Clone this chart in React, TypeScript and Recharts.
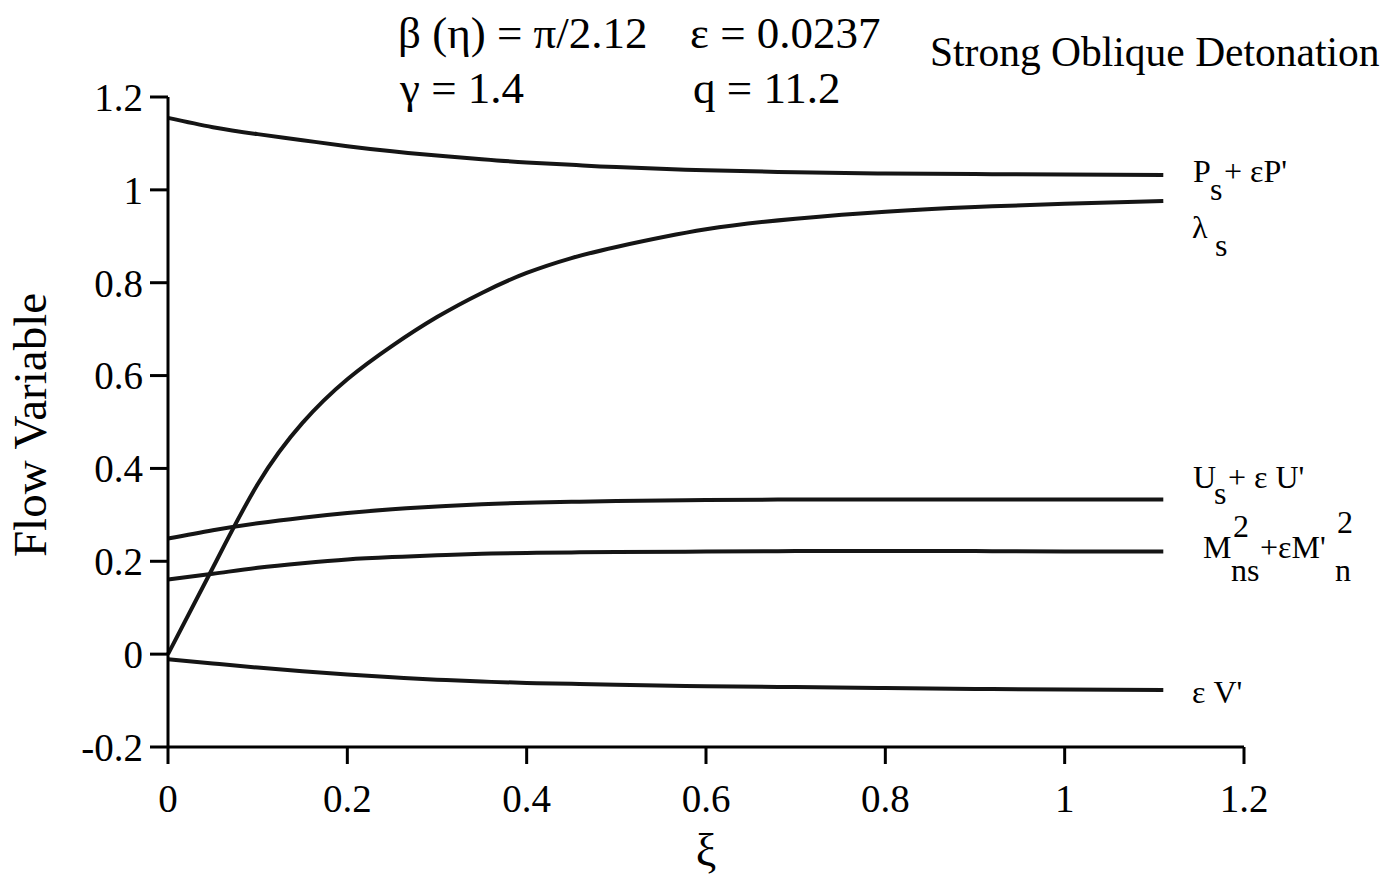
import React from "react";
import { LineChart, Line, XAxis, YAxis, Customized } from "recharts";

// xi positions along the detonation front
const xi = [0, 0.05, 0.1, 0.15, 0.2, 0.25, 0.3, 0.35, 0.4, 0.45, 0.5, 0.6, 0.7, 0.8, 0.9, 1.0, 1.11];
const pressure = [1.155, 1.135, 1.12, 1.107, 1.094, 1.083, 1.074, 1.066, 1.059, 1.054, 1.049, 1.042, 1.038, 1.035, 1.034, 1.033, 1.032];
const lambda = [0, 0.186, 0.366, 0.498, 0.592, 0.664, 0.726, 0.778, 0.821, 0.853, 0.877, 0.915, 0.938, 0.953, 0.963, 0.97, 0.976];
const velocityU = [0.249, 0.267, 0.282, 0.294, 0.304, 0.312, 0.318, 0.323, 0.326, 0.328, 0.33, 0.332, 0.333, 0.333, 0.333, 0.333, 0.333];
const machSq = [0.161, 0.173, 0.186, 0.196, 0.204, 0.209, 0.213, 0.216, 0.218, 0.219, 0.22, 0.221, 0.222, 0.222, 0.222, 0.221, 0.221];
const velocityV = [-0.011, -0.02, -0.029, -0.037, -0.044, -0.05, -0.055, -0.059, -0.062, -0.064, -0.066, -0.069, -0.071, -0.073, -0.075, -0.076, -0.077];

const xTicks = [0, 0.2, 0.4, 0.6, 0.8, 1, 1.2];
const yTicks = [-0.2, 0, 0.2, 0.4, 0.6, 0.8, 1, 1.2];

const data = xi.map((x, i) => ({
  xi: x,
  p: pressure[i],
  lambda: lambda[i],
  u: velocityU[i],
  m: machSq[i],
  v: velocityV[i],
}));

const FONT = "'Liberation Serif', 'Times New Roman', serif";

const Annotations = () => (
  <g fontFamily={FONT} fill="#000">
    <text x={398} y={48} fontSize={45}>β (η) = π/2.12</text>
    <text x={690} y={48} fontSize={45}>ε = 0.0237</text>
    <text x={400} y={103} fontSize={45}>γ = 1.4</text>
    <text x={693} y={103} fontSize={45}>q = 11.2</text>
    <text x={930} y={66} fontSize={41.5}>Strong Oblique Detonation</text>

    <text
      x={0}
      y={0}
      fontSize={47}
      textAnchor="middle"
      transform="translate(46,425) rotate(-90)"
    >
      Flow Variable
    </text>
    <text x={706} y={866} fontSize={46} textAnchor="middle">ξ</text>

    <g fontSize={32}>
      <text x={1193} y={182}>P</text>
      <text x={1210} y={200}>s</text>
      <text x={1224} y={182}>+ εP'</text>

      <text x={1192} y={238}>λ</text>
      <text x={1215} y={256}>s</text>

      <text x={1193} y={488}>U</text>
      <text x={1214} y={504}>s</text>
      <text x={1228} y={488}>+ ε U'</text>

      <text x={1203} y={558}>M</text>
      <text x={1233} y={537}>2</text>
      <text x={1231} y={581}>ns</text>
      <text x={1260} y={558}>+εM'</text>
      <text x={1337} y={533}>2</text>
      <text x={1335} y={581}>n</text>

      <text x={1192} y={703}>ε  V'</text>
    </g>
  </g>
);

export default function App() {
  const tickStyle = { fontFamily: FONT, fontSize: 39, fill: "#000" };
  const lineProps = { type: "natural" as const, stroke: "#151515", strokeWidth: 4, dot: false, isAnimationActive: false };
  return (
    <div style={{ position: "absolute", left: 0, top: 0, background: "#fff" }}>
      <LineChart
        width={1394}
        height={888}
        data={data}
        margin={{ top: 97, right: 150, left: 0, bottom: 0 }}
      >
        <XAxis
          dataKey="xi"
          type="number"
          domain={[0, 1.2]}
          ticks={xTicks}
          tickFormatter={(v) => String(Number(v.toFixed(1)))}
          height={141}
          tickSize={17}
          tickMargin={20}
          tick={tickStyle}
          axisLine={{ stroke: "#000", strokeWidth: 3 }}
          tickLine={{ stroke: "#000", strokeWidth: 3 }}
          interval={0}
        />
        <YAxis
          type="number"
          domain={[-0.2, 1.2]}
          ticks={yTicks}
          tickFormatter={(v) => String(Number(v.toFixed(1)))}
          width={168}
          tickSize={18}
          tickMargin={7}
          tick={tickStyle}
          axisLine={{ stroke: "#000", strokeWidth: 3 }}
          tickLine={{ stroke: "#000", strokeWidth: 3 }}
          interval={0}
        />
        <Line dataKey="p" {...lineProps} />
        <Line dataKey="lambda" {...lineProps} />
        <Line dataKey="u" {...lineProps} />
        <Line dataKey="m" {...lineProps} />
        <Line dataKey="v" {...lineProps} />
        <Customized component={Annotations} />
      </LineChart>
    </div>
  );
}
